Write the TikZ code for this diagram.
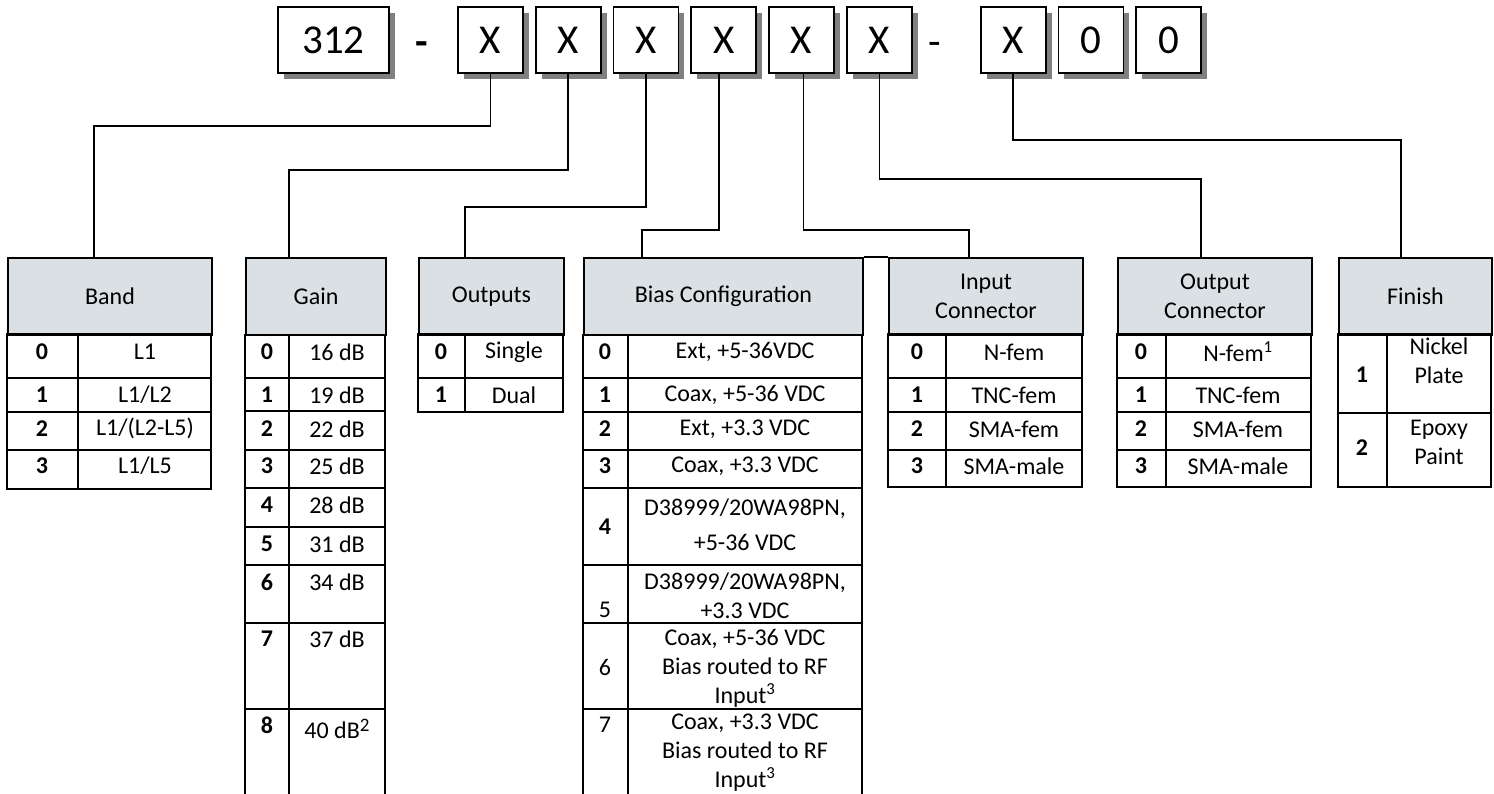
\documentclass[tikz,border=0pt]{standalone}
\usepackage{fontspec}
\setmainfont{Carlito}
\usepackage{xcolor}
\usepackage{tikz}
\usetikzlibrary{positioning,shadows}
\definecolor{hdrgray}{RGB}{218,224,227}

\begin{document}
\begin{tikzpicture}[x=1pt, y=-1pt,
    code/.style={draw, line width=1.8pt, fill=white, minimum width=65pt, minimum height=66pt, inner sep=0pt,
      font=\fontsize{41}{49}\selectfont,
      drop shadow={fill=black!50, opacity=1, shadow xshift=6pt, shadow yshift=-6pt}},
    hdr/.style={draw, line width=2pt, fill=hdrgray, anchor=north west, minimum height=77pt, inner sep=0pt,
      align=center, font=\fontsize{24}{29}\selectfont},
    grid/.style={line width=2pt},
    link/.style={line width=1.6pt},
    num/.style={font=\fontsize{24}{29}\selectfont\bfseries},
    val/.style={align=center, font=\fontsize{24}{29}\selectfont}
  ]
    \useasboundingbox (0,0) rectangle (1494,794);

    % part number boxes
    \node[code, minimum width=111pt] (base) at (333.5,40) {312};
    \node[code, right=67pt of base] (x1) {X};
    \node[code, right=11pt of x1] (x2) {X};
    \node[code, right=11pt of x2] (x3) {X};
    \node[code, right=11pt of x3] (x4) {X};
    \node[code, right=11pt of x4] (x5) {X};
    \node[code, right=11pt of x5] (x6) {X};
    \node[code, right=67pt of x6] (x7) {X};
    \node[code, right=11pt of x7] (z1) {0};
    \node[code, right=11pt of z1] (z2) {0};
    \node[font=\fontsize{41}{49}\selectfont\bfseries] (d1) at (422,49) {-};
    \node[font=\fontsize{41}{49}\selectfont] (d2) at (935,49) {-};

    % table heads
    \node[hdr, minimum width=204pt] (band) at (7,257) {Band};
    \node[hdr, minimum width=140pt] (gain) at (245,257) {Gain};
    \node[hdr, minimum width=145pt] (outs) at (418,257) {Outputs};
    \node[hdr, minimum width=279pt] (bias) at (583,257) {Bias Configuration};
    \node[hdr, minimum width=194pt] (inconn) at (888,257) {Input\\Connector};
    \node[hdr, minimum width=194pt] (outconn) at (1117,257) {Output\\Connector};
    \node[hdr, minimum width=153pt] (fin) at (1338,257) {Finish};
    \draw[grid] (bias.north east) -- (inconn.north west);

    % connectors
    \coordinate (k1) at (94,126);
    \coordinate (k2) at (289,170);
    \coordinate (k3) at (465,207);
    \coordinate (k4) at (642,230);
    \coordinate (k5) at (969,230);
    \coordinate (k6) at (1201,179);
    \coordinate (k7) at (1401,140);
    \draw[link] (x1.south) |- (k1) -- (k1 |- band.north);
    \draw[link] (x2.south) |- (k2) -- (k2 |- gain.north);
    \draw[link] (x3.south) |- (k3) -- (k3 |- outs.north);
    \draw[link] ([xshift=-5pt]x4.south) |- (k4) -- (k4 |- bias.north);
    \draw[link] ([xshift=2pt]x5.south) |- (k5) -- (k5 |- inconn.north);
    \draw[link] (x6.south) |- (k6) -- (k6 |- outconn.north);
    \draw[link] (x7.south) |- (k7) -- (k7 |- fin.north);

    % band
    \draw[grid] (7,334) rectangle (211,489);
    \draw[grid] (78,334) -- (78,489);
    \draw[grid] (7,378) -- (211,378) (7,412) -- (211,412) (7,450) -- (211,450);
    \node[num] (bn0) at (42,352) {0};  \node[val] (bv0) at (145,352) {L1};
    \node[num] (bn1) at (42,395) {1};  \node[val] (bv1) at (145,395) {L1/L2};
    \node[num] (bn2) at (42,429) {2};  \node[val] (bv2) at (145,428) {L1/(L2-L5)};
    \node[num] (bn3) at (42,466) {3};  \node[val] (bv3) at (145,466) {L1/L5};

    % gain
    \draw[grid] (245,794) -- (245,334) (385,334) -- (385,794) (289,334) -- (289,794);
    \draw[grid] (245,378) -- (385,378) (245,411) -- (385,411) (245,450) -- (385,450)
      (245,488) -- (385,488) (245,527) -- (385,527) (245,565) -- (385,565)
      (245,623) -- (385,623) (245,709) -- (385,709);
    \node[num] (gn0) at (267,352) {0};  \node[val] (gv0) at (337,352) {16 dB};
    \node[num] (gn1) at (267,395) {1};  \node[val] (gv1) at (337,395) {19 dB};
    \node[num] (gn2) at (267,429) {2};  \node[val] (gv2) at (337,429) {22 dB};
    \node[num] (gn3) at (267,466) {3};  \node[val] (gv3) at (337,466) {25 dB};
    \node[num] (gn4) at (267,505) {4};  \node[val] (gv4) at (337,505) {28 dB};
    \node[num] (gn5) at (267,544) {5};  \node[val] (gv5) at (337,544) {31 dB};
    \node[num] (gn6) at (267,582) {6};  \node[val] (gv6) at (337,582) {34 dB};
    \node[num] (gn7) at (267,639) {7};  \node[val] (gv7) at (337,639) {37 dB};
    \node[num] (gn8) at (267,725) {8};
    \node[val] (gv8) at (337,729) {40 dB\raisebox{7pt}{\fontsize{19}{19}\selectfont 2}};

    % outputs
    \draw[grid] (418,334) rectangle (563,412);
    \draw[grid] (465,334) -- (465,412) (418,378) -- (563,378);
    \node[num] (on0) at (441,352) {0};  \node[val] (ov0) at (514,352) {Single};
    \node[num] (on1) at (441,395) {1};  \node[val] (ov1) at (514,395) {Dual};

    % bias configuration
    \draw[grid] (583,794) -- (583,334) (862,334) -- (862,794) (628,334) -- (628,794);
    \draw[grid] (583,378) -- (862,378) (583,412) -- (862,412) (583,450) -- (862,450)
      (583,488) -- (862,488) (583,565) -- (862,565) (583,623) -- (862,623)
      (583,709) -- (862,709);
    \node[num] (cn0) at (605,352) {0};  \node[val] (cv0) at (745,352) {Ext, +5-36VDC};
    \node[num] (cn1) at (605,395) {1};  \node[val] (cv1) at (745,395) {Coax, +5-36 VDC};
    \node[num] (cn2) at (605,429) {2};  \node[val] (cv2) at (745,429) {Ext, +3.3 VDC};
    \node[num] (cn3) at (605,466) {3};  \node[val] (cv3) at (745,466) {Coax, +3.3 VDC};
    \node[num] (cn4) at (605,527) {4};  \node[val] (cv4) at (745,525) {D38999/20WA98PN,\\[6pt]+5-36 VDC};
    \node[val] (cn5) at (605,610) {5};  \node[val] (cv5) at (745,596) {D38999/20WA98PN,\\+3.3 VDC};
    \node[val] (cn6) at (605,667) {6};  \node[val] (cv6) at (745,668) {Coax, +5-36 VDC\\Bias routed to RF\\Input\textsuperscript{3}};
    \node[val] (cn7) at (605,725) {7};  \node[val] (cv7) at (745,753) {Coax, +3.3 VDC\\Bias routed to RF\\Input\textsuperscript{3}};

    % input connector
    \draw[grid] (888,334) rectangle (1082,487);
    \draw[grid] (946,334) -- (946,487);
    \draw[grid] (888,378) -- (1082,378) (888,412) -- (1082,412) (888,450) -- (1082,450);
    \node[num] (in0) at (917,352) {0};  \node[val] (iv0) at (1014,352) {N-fem};
    \node[num] (in1) at (917,395) {1};  \node[val] (iv1) at (1014,395) {TNC-fem};
    \node[num] (in2) at (917,429) {2};  \node[val] (iv2) at (1014,429) {SMA-fem};
    \node[num] (in3) at (917,466) {3};  \node[val] (iv3) at (1014,466) {SMA-male};

    % output connector
    \draw[grid] (1117,334) rectangle (1311,487);
    \draw[grid] (1166,334) -- (1166,487);
    \draw[grid] (1117,378) -- (1311,378) (1117,412) -- (1311,412) (1117,450) -- (1311,450);
    \node[num] (un0) at (1141,352) {0};  \node[val] (uv0) at (1238,352) {N-fem\textsuperscript{1}};
    \node[num] (un1) at (1141,395) {1};  \node[val] (uv1) at (1238,395) {TNC-fem};
    \node[num] (un2) at (1141,429) {2};  \node[val] (uv2) at (1238,429) {SMA-fem};
    \node[num] (un3) at (1141,466) {3};  \node[val] (uv3) at (1238,466) {SMA-male};

    % finish
    \draw[grid] (1338,334) rectangle (1491,487);
    \draw[grid] (1387,334) -- (1387,487) (1338,413) -- (1491,413);
    \node[num] (fn1) at (1362,375) {1};  \node[val] (fv1) at (1439,361) {Nickel\\Plate};
    \node[num] (fn2) at (1362,448) {2};  \node[val] (fv2) at (1439,442) {Epoxy\\Paint};
  \end{tikzpicture}
\end{document}
